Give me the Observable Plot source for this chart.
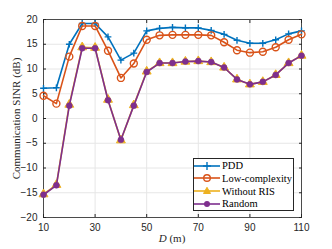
<!DOCTYPE html>
<html><head><meta charset="utf-8">
<script src="https://cdn.jsdelivr.net/npm/d3@7"></script>
<script src="https://cdn.jsdelivr.net/npm/@observablehq/plot@0.6"></script>
<style>
body{margin:0;background:#fff;}
#wrap{position:relative;width:332px;height:249px;}
#legend{position:absolute;left:193px;top:158px;width:101px;height:53px;border:1px solid #262626;background:#fff;font-family:"Liberation Serif",serif;font-size:10.5px;color:#000;box-sizing:border-box;}
.row{position:absolute;left:0;height:13px;display:flex;align-items:center;}
.row svg{display:block}
#xlab{position:absolute;top:232px;left:0;width:332px;text-align:center;font-family:"Liberation Serif",serif;font-size:11px;color:#262626;padding-left:12px;box-sizing:border-box}
</style></head>
<body><div id="wrap"></div>
<script>
const distances = [10,15,20,25,30,35,40,45,50,55,60,65,70,75,80,85,90,95,100,105,110];
const pdd = [6.1,6.2,15.0,19.2,19.2,16.5,11.8,13.2,17.7,18.2,18.4,18.3,18.3,17.8,17.0,15.8,15.2,15.2,15.9,17.1,17.7];
const lowComplexity = [4.6,3.0,12.5,18.7,18.7,13.7,8.2,11.1,15.9,16.8,16.9,16.9,16.9,16.8,15.4,13.8,13.3,13.5,14.4,15.9,17.0];
const withoutRIS = [-15.3,-13.4,2.8,14.4,14.3,3.8,-4.4,2.7,9.5,11.2,11.2,11.5,11.6,11.4,10.3,7.9,6.9,7.4,8.8,11.2,12.7];
const random = [-15.4,-13.5,2.6,14.2,14.2,3.7,-4.3,2.6,9.4,11.2,11.2,11.5,11.6,11.4,10.3,7.9,6.9,7.4,8.8,11.2,12.7];
const seriesNames = ["PDD","Low-complexity","Without RIS","Random"];
const xTicks = [10,30,50,70,90,110];
const yTicks = [-20,-15,-10,-5,0,5,10,15,20];

const colors = {"PDD":"#0072BD","Low-complexity":"#D95319","Without RIS":"#EDB120","Random":"#7E2F8E"};
const plus = {draw(ctx, size){const r = Math.sqrt(size)/2; ctx.moveTo(-r,0); ctx.lineTo(r,0); ctx.moveTo(0,-r); ctx.lineTo(0,r);}};

const rows = [];
[pdd, lowComplexity, withoutRIS, random].forEach((arr, i) => {
  arr.forEach((v, j) => rows.push({s: seriesNames[i], x: distances[j], y: v}));
});
const sel = s => rows.filter(d => d.s === s);

const font = "Liberation Sans, Arial, sans-serif";
const chart = Plot.plot({
  width: 332, height: 249,
  marginLeft: 43, marginRight: 31, marginTop: 19, marginBottom: 32,
  style: {fontFamily: font, fontSize: "10px", color: "#262626", background: "#fff"},
  x: {domain: [10, 110]},
  y: {domain: [-20, 20]},
  marks: [
    Plot.gridX(xTicks, {stroke: "#e6e6e6", strokeOpacity: 1}),
    Plot.gridY(yTicks, {stroke: "#e6e6e6", strokeOpacity: 1}),
    Plot.axisX({ticks: xTicks, tickSize: -3, tickPadding: 9, label: null, stroke: "#262626"}),
    Plot.axisY({ticks: yTicks, tickSize: -3, tickPadding: 9, label: null, stroke: "#262626"}),
    Plot.axisX({anchor: "top", ticks: xTicks, tickSize: -3, tickFormat: () => "", label: null, stroke: "#262626"}),
    Plot.axisY({anchor: "right", ticks: yTicks, tickSize: -3, tickFormat: () => "", label: null, stroke: "#262626"}),
    Plot.frame({stroke: "#262626", strokeWidth: 0.8}),
    Plot.line(sel("PDD"), {x: "x", y: "y", stroke: colors["PDD"], strokeWidth: 1.6}),
    Plot.dot(sel("PDD"), {x: "x", y: "y", symbol: plus, r: 3.8, stroke: colors["PDD"], strokeWidth: 1.4, fill: "none"}),
    Plot.line(sel("Low-complexity"), {x: "x", y: "y", stroke: colors["Low-complexity"], strokeWidth: 1.6}),
    Plot.dot(sel("Low-complexity"), {x: "x", y: "y", r: 3.5, stroke: colors["Low-complexity"], strokeWidth: 1.4, fill: "none"}),
    Plot.line(sel("Without RIS"), {x: "x", y: "y", stroke: colors["Without RIS"], strokeWidth: 1.6}),
    Plot.dot(sel("Without RIS"), {x: "x", y: "y", symbol: "triangle", r: 3.3, fill: colors["Without RIS"], stroke: colors["Without RIS"], strokeWidth: 1}),
    Plot.line(sel("Random"), {x: "x", y: "y", stroke: colors["Random"], strokeWidth: 1.6}),
    Plot.dot(sel("Random"), {x: "x", y: "y", r: 3, fill: colors["Random"], stroke: colors["Random"], strokeWidth: 0.5}),
    Plot.text(["Communication SINR (dB)"], {frameAnchor: "left", textAnchor: "middle", rotate: -90, dx: -27, fontFamily: "Liberation Serif, serif", fontSize: 11, fill: "#262626"})
  ]
});
const wrap = document.getElementById("wrap");
wrap.appendChild(chart);

const xl = document.createElement("div");
xl.id = "xlab";
xl.innerHTML = "<i>D</i> (m)";
wrap.appendChild(xl);

const lg = document.createElement("div");
lg.id = "legend";
const markerSvg = {
  "PDD": c => `<line x1="13" y1="3" x2="13" y2="11" stroke="${c}" stroke-width="1.4"/><line x1="9" y1="7" x2="17" y2="7" stroke="${c}" stroke-width="1.4"/>`,
  "Low-complexity": c => `<circle cx="13" cy="7" r="3.3" fill="none" stroke="${c}" stroke-width="1.4"/>`,
  "Without RIS": c => `<path d="M13,3.3L16.5,9.5L9.5,9.5Z" fill="${c}" stroke="${c}"/>`,
  "Random": c => `<circle cx="13" cy="7" r="3" fill="${c}"/>`
};
seriesNames.forEach((s, i) => {
  const c = colors[s];
  const r = document.createElement("div");
  r.className = "row";
  r.style.top = (0 + i * 12.8) + "px";
  r.innerHTML = `<svg width="27" height="14"><line x1="0" y1="7" x2="26" y2="7" stroke="${c}" stroke-width="1.6"/>${markerSvg[s](c)}</svg><span style="margin-left:1px">${s}</span>`;
  lg.appendChild(r);
});
wrap.appendChild(lg);
</script>
</body></html>
